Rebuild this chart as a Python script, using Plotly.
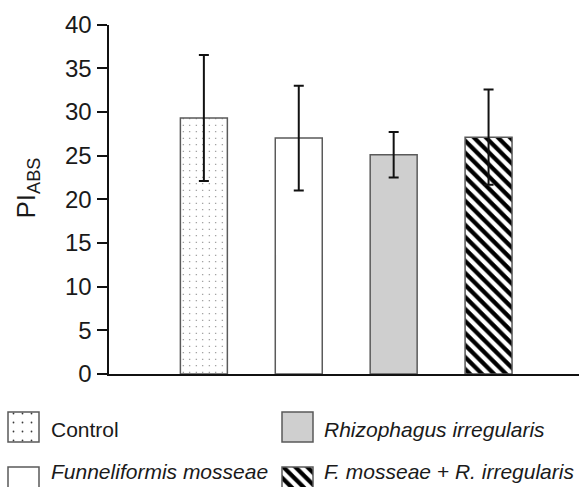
import plotly.graph_objects as go

# ---- data ----
categories = ["Control", "Funneliformis mosseae", "Rhizophagus irregularis", "F. mosseae + R. irregularis"]
pi_abs = [29.3, 27.0, 25.1, 27.1]
pi_err = [7.2, 6.0, 2.6, 5.45]
y_ticks = [0, 5, 10, 15, 20, 25, 30, 35, 40]
y_title = "PI<sub>ABS</sub>"
legend_labels = ["Control", "<i>Funneliformis mosseae</i>", "<i>Rhizophagus irregularis</i>",
                 "<i>F. mosseae + R. irregularis</i>"]

# ---- styles ----
W, H = 579, 487
FONT = "Arial, Liberation Sans, sans-serif"
fill_colors = ["white", "white", "#cfcfcf", "white"]
pat_shapes = [".", "", "", "\\"]
pat_fg = ["#3a3a3a", "#000000", "#000000", "#000000"]
pat_size = [6.5, 8, 8, 8.5]
pat_solid = [0.025, 0.3, 0.3, 0.5]
outline = "#5a5a5a"

# legend layout (pixels)
sw_x = [23.5, 23.5, 297.5, 297.5]
sw_top = [412, 467, 412, 467]
txt_x = [49, 49, 322, 322]
txt_y = [429, 471, 429, 471]


def px_x(p):
    return p / W


def px_y(p):
    return (H - p) / H


def pattern(i, solid=None, size=None):
    if not pat_shapes[i]:
        return dict(shape="")
    return dict(shape=pat_shapes[i], fgcolor=pat_fg[i], bgcolor=fill_colors[i],
                size=size if size is not None else pat_size[i],
                solidity=solid if solid is not None else pat_solid[i],
                fillmode="replace")


fig = go.Figure()

for i, cat in enumerate(categories):
    fig.add_trace(go.Bar(
        x=[i], y=[pi_abs[i]], width=0.495, name=cat,
        marker=dict(color=fill_colors[i], line=dict(color=outline, width=1.5), pattern=pattern(i)),
        error_y=dict(type="data", array=[pi_err[i]], visible=True, color="#111111",
                     thickness=2, width=5),
        showlegend=False, hoverinfo="skip",
    ))

# ---- legend swatches (custom, larger than plotly's built-in legend symbols) ----
for i, cat in enumerate(categories):
    fig.add_trace(go.Bar(
        x=[sw_x[i]], y=[30], base=[sw_top[i]], width=[31], name=cat,
        xaxis="x2", yaxis="y2",
        marker=dict(color=fill_colors[i], line=dict(color=outline, width=1.5),
                    pattern=pattern(i, 0.03 if i == 0 else None, 9 if i == 0 else None)),
        showlegend=False, hoverinfo="skip",
    ))

for lab, tx, ty in zip(legend_labels, txt_x, txt_y):
    fig.add_annotation(text=lab, x=px_x(tx), y=px_y(ty), xref="paper", yref="paper",
                       xanchor="left", yanchor="middle", showarrow=False,
                       font=dict(family=FONT, size=21, color="#1a1a1a"))

# y-axis title
fig.add_annotation(text=y_title, textangle=-90, x=px_x(27.5), y=px_y(188), xref="paper",
                   yref="paper", xanchor="center", yanchor="middle", showarrow=False,
                   font=dict(family=FONT, size=26, color="#1a1a1a"))

fig.update_layout(
    width=W, height=H, margin=dict(l=0, r=0, t=0, b=0, pad=0), autosize=False,
    paper_bgcolor="white", plot_bgcolor="rgba(0,0,0,0)",
    barmode="overlay", font=dict(family=FONT, color="#1a1a1a"),
    xaxis=dict(domain=[px_x(108.5), 1], range=[-1.005, 3.953], showline=True, linecolor="#111111",
               linewidth=2, showticklabels=False, ticks="", showgrid=False, zeroline=False,
               automargin=False, fixedrange=True),
    yaxis=dict(domain=[px_y(374), px_y(24.5)], range=[0, 40], tickvals=y_ticks, showline=True,
               linecolor="#111111", linewidth=2, ticks="outside", ticklen=10, tickwidth=2,
               tickcolor="#111111", showgrid=False, zeroline=False, automargin=False,
               fixedrange=True,
               tickfont=dict(family=FONT, size=24, color="#1a1a1a")),
    xaxis2=dict(domain=[0, 1], range=[0, W], visible=False, anchor="y2", automargin=False,
                fixedrange=True),
    yaxis2=dict(domain=[0, px_y(400)], range=[H, 400], visible=False, anchor="x2",
                automargin=False, fixedrange=True),
)

fig.write_html("out.html", config=dict(displayModeBar=False))
